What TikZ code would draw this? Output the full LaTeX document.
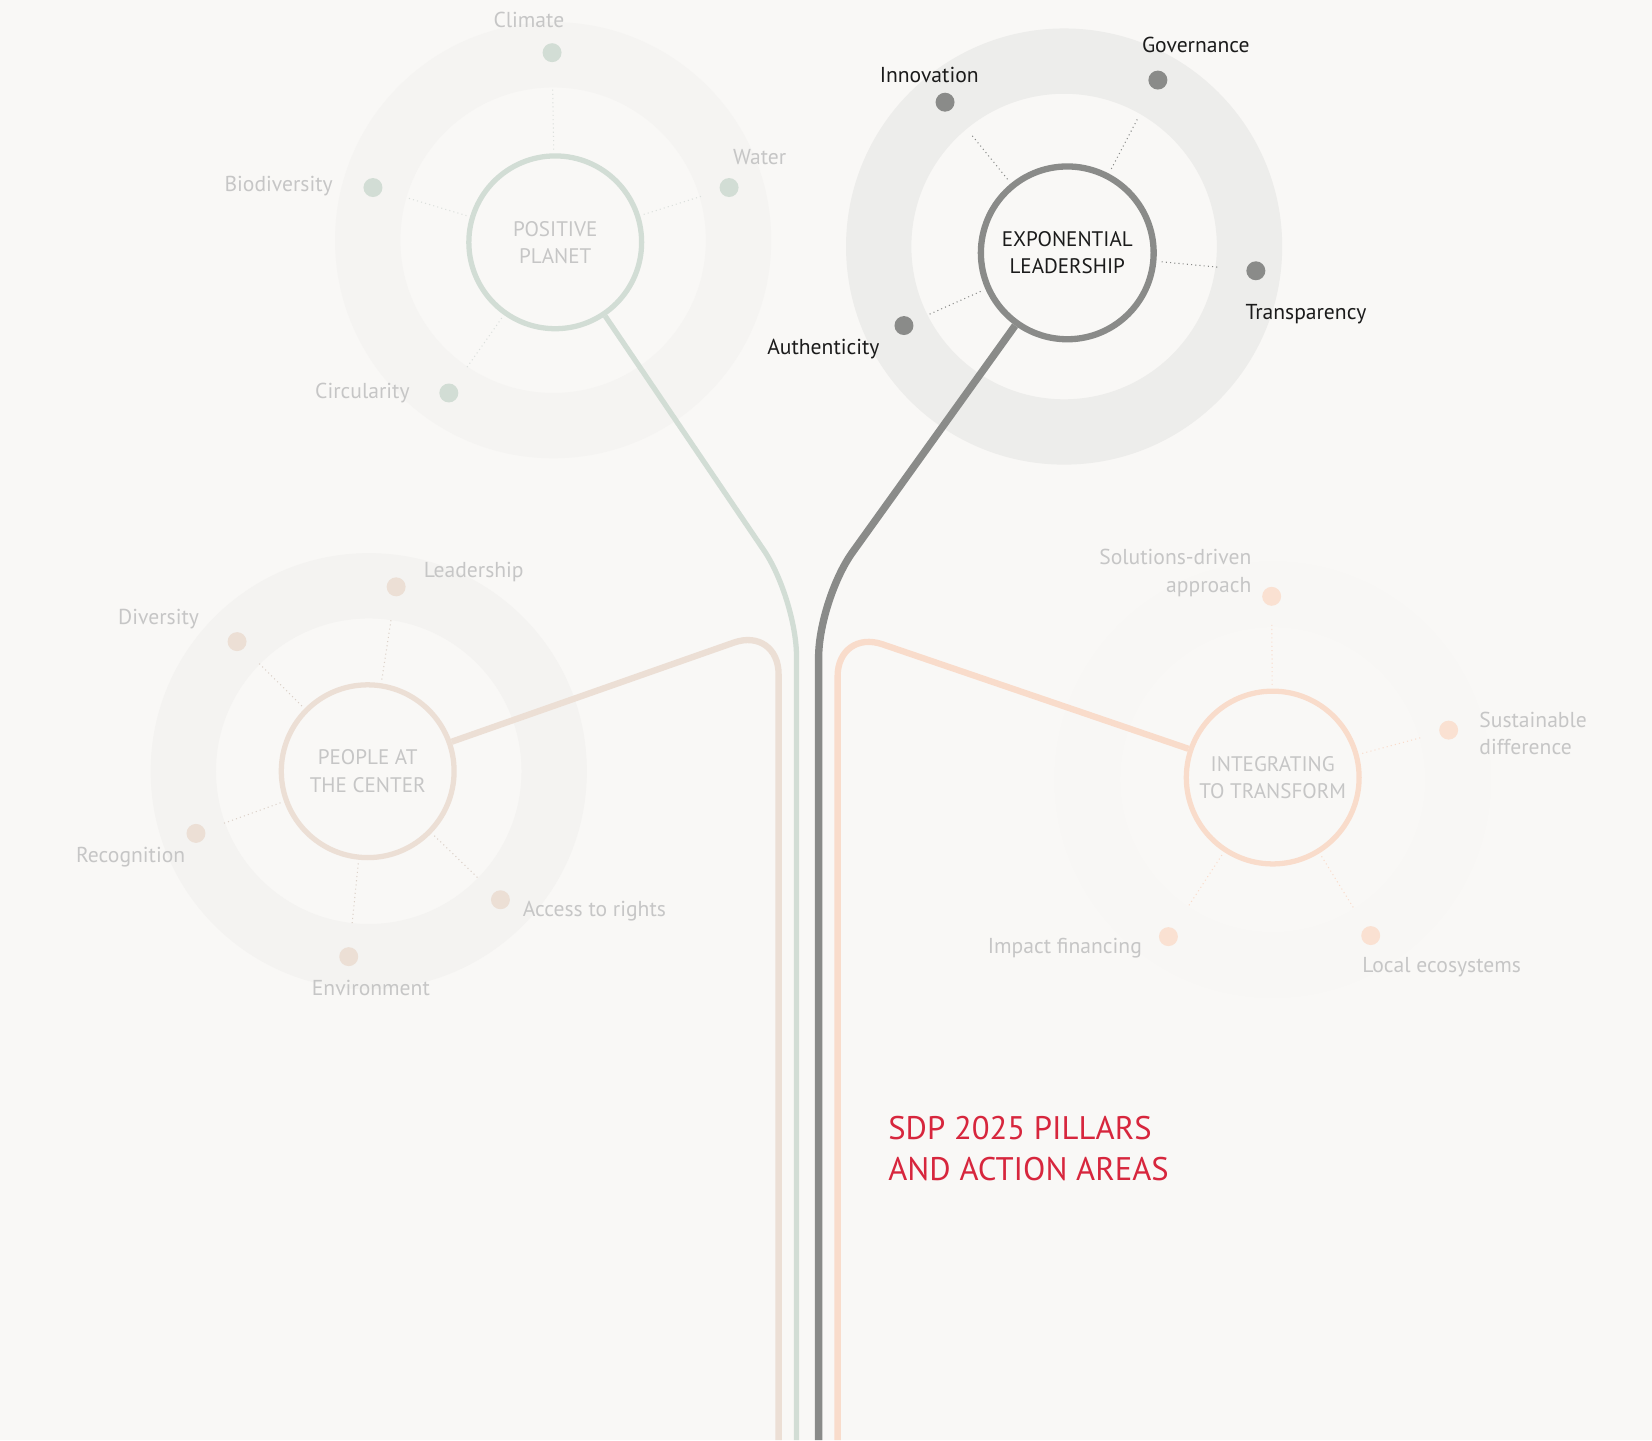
\documentclass[tikz,border=0pt]{standalone}
\usepackage{fontspec}
\setmainfont{PT Sans}
\usetikzlibrary{calc}
\definecolor{bg}{HTML}{F9F8F6}
\definecolor{ppc}{HTML}{D2DDD5}
\definecolor{elc}{HTML}{8A8B89}
\definecolor{pcc}{HTML}{ECDFD5}
\definecolor{itc}{HTML}{F9DCCB}
\definecolor{itdot}{HTML}{FAE1D2}
\definecolor{ppring}{HTML}{F5F4F2}
\definecolor{elring}{HTML}{EDEDEB}
\definecolor{pcring}{HTML}{F4F3F1}
\definecolor{itring}{HTML}{F8F7F5}
\definecolor{fadetxt}{HTML}{C6C6C6}
\definecolor{darktxt}{HTML}{1B1B1B}
\definecolor{sdpred}{HTML}{D7263D}
\tikzset{
  pillar/.style={circle, minimum size=164pt, inner sep=0pt, line width=5pt, align=center, font=\fontsize{20}{26}\selectfont},
  lbl/.style={font=\fontsize{20.5}{26}\selectfont, inner sep=0pt},
  dotf/.style={circle, inner sep=0pt, minimum size=18pt},
  spoke/.style={line width=1pt, dash pattern=on 1pt off 3pt},
  conn/.style={line width=6pt, rounded corners=55pt}
}
\begin{document}
\begin{tikzpicture}[x=1pt,y=-1pt]
\fill[bg] (0,0) rectangle (1568,1367);
\useasboundingbox (0,0) rectangle (1568,1367);
% rings
\fill[ppring, even odd rule] (525,228) circle (207) (525,228) circle (145);
\fill[elring, even odd rule] (1010,234) circle (207) (1010,234) circle (145);
\fill[pcring, even odd rule] (350,732) circle (207) (350,732) circle (145);
\fill[itring, even odd rule] (1208,740) circle (207) (1208,740) circle (145);
% pillar circles
\node[pillar, draw=ppc, text=fadetxt] (PP) at (527,230) {POSITIVE\\PLANET};
\node[pillar, draw=elc, line width=6pt, text=darktxt] (EL) at (1013,240) {EXPONENTIAL\\LEADERSHIP};
\node[pillar, draw=pcc, text=fadetxt] (PC) at (349,732) {PEOPLE AT\\THE CENTER};
\node[pillar, draw=itc, text=fadetxt] (IT) at (1208,738) {INTEGRATING\\TO TRANSFORM};
% connectors
\coordinate (ppend) at (756,1367);
\coordinate (elend) at (777,1367);
\coordinate (pcend) at (739,1367);
\coordinate (itend) at (795,1367);
\draw[conn, ppc, line width=5pt] (PP) -- (756,568) -- (ppend);
\draw[conn, elc, line width=7pt] (EL) -- (777,569) -- (elend);
\draw[conn, pcc, rounded corners=45pt] (PC) -- (739,595) -- (pcend);
\draw[conn, itc, rounded corners=45pt] (IT) -- (795,597) -- (itend);
% dots PP
\node[dotf, fill=ppc] (pp1) at (524,50) {};
\node[dotf, fill=ppc] (pp2) at (692,178) {};
\node[dotf, fill=ppc] (pp3) at (354,178) {};
\node[dotf, fill=ppc] (pp4) at (426,373) {};
\foreach \d in {pp1,pp2,pp3,pp4}
  \draw[spoke, ppc!70!gray!50] ($(PP)!88pt!(\d)$) -- ($(PP)!146pt!(\d)$);
% dots EL
\node[dotf, fill=elc] (el1) at (897,97) {};
\node[dotf, fill=elc] (el2) at (1099,76) {};
\node[dotf, fill=elc] (el3) at (1192,257) {};
\node[dotf, fill=elc] (el4) at (858,309) {};
\foreach \d in {el1,el2,el3,el4}
  \draw[spoke, elc] ($(EL)!90pt!(\d)$) -- ($(EL)!146pt!(\d)$);
% dots PC
\node[dotf, fill=pcc] (pc1) at (376,557) {};
\node[dotf, fill=pcc] (pc2) at (225,609) {};
\node[dotf, fill=pcc] (pc3) at (186,791) {};
\node[dotf, fill=pcc] (pc4) at (331,908) {};
\node[dotf, fill=pcc] (pc5) at (475,854) {};
\foreach \d in {pc1,pc2,pc3,pc4,pc5}
  \draw[spoke, pcc!85!gray] ($(PC)!88pt!(\d)$) -- ($(PC)!146pt!(\d)$);
% dots IT
\node[dotf, fill=itdot] (it1) at (1207,566) {};
\node[dotf, fill=itdot] (it2) at (1375,693) {};
\node[dotf, fill=itdot] (it3) at (1301,888) {};
\node[dotf, fill=itdot] (it4) at (1109,889) {};
\foreach \d in {it1,it2,it3,it4}
  \draw[spoke, itc] ($(IT)!88pt!(\d)$) -- ($(IT)!146pt!(\d)$);
% labels PP
\node[lbl, text=fadetxt] (lpp1) at (502,19) {Climate};
\node[lbl, text=fadetxt] (lpp2) at (721,149) {Water};
\node[lbl, text=fadetxt, anchor=east] (lpp3) at (316,177) {Biodiversity};
\node[lbl, text=fadetxt, anchor=east] (lpp4) at (389,373) {Circularity};
% labels EL
\node[lbl, text=darktxt] (lel1) at (882,71) {Innovation};
\node[lbl, text=darktxt] (lel2) at (1135,43) {Governance};
\node[lbl, text=darktxt, anchor=west] (lel3) at (1182,298) {Transparency};
\node[lbl, text=darktxt, anchor=east] (lel4) at (835,331) {Authenticity};
% labels PC
\node[lbl, text=fadetxt, anchor=west] (lpc1) at (402,543) {Leadership};
\node[lbl, text=fadetxt, anchor=east] (lpc2) at (189,588) {Diversity};
\node[lbl, text=fadetxt, anchor=east] (lpc3) at (176,814) {Recognition};
\node[lbl, text=fadetxt] (lpc4) at (352,938) {Environment};
\node[lbl, text=fadetxt, anchor=west] (lpc5) at (496,865) {Access to rights};
% labels IT
\node[lbl, text=fadetxt, anchor=east, align=right] (lit1) at (1188,544) {Solutions-driven\\approach};
\node[lbl, text=fadetxt, anchor=west, align=left] (lit2) at (1404,696) {Sustainable\\difference};
\node[lbl, text=fadetxt, anchor=west] (lit3) at (1293,918) {Local ecosystems};
\node[lbl, text=fadetxt, anchor=east] (lit4) at (1084,900) {Impact financing};
% title
\node[inner sep=0pt, anchor=west, align=left, text=sdpred, font=\fontsize{31}{39}\selectfont] (title) at (843,1090) {SDP 2025 PILLARS\\AND ACTION AREAS};
\end{tikzpicture}
\end{document}
